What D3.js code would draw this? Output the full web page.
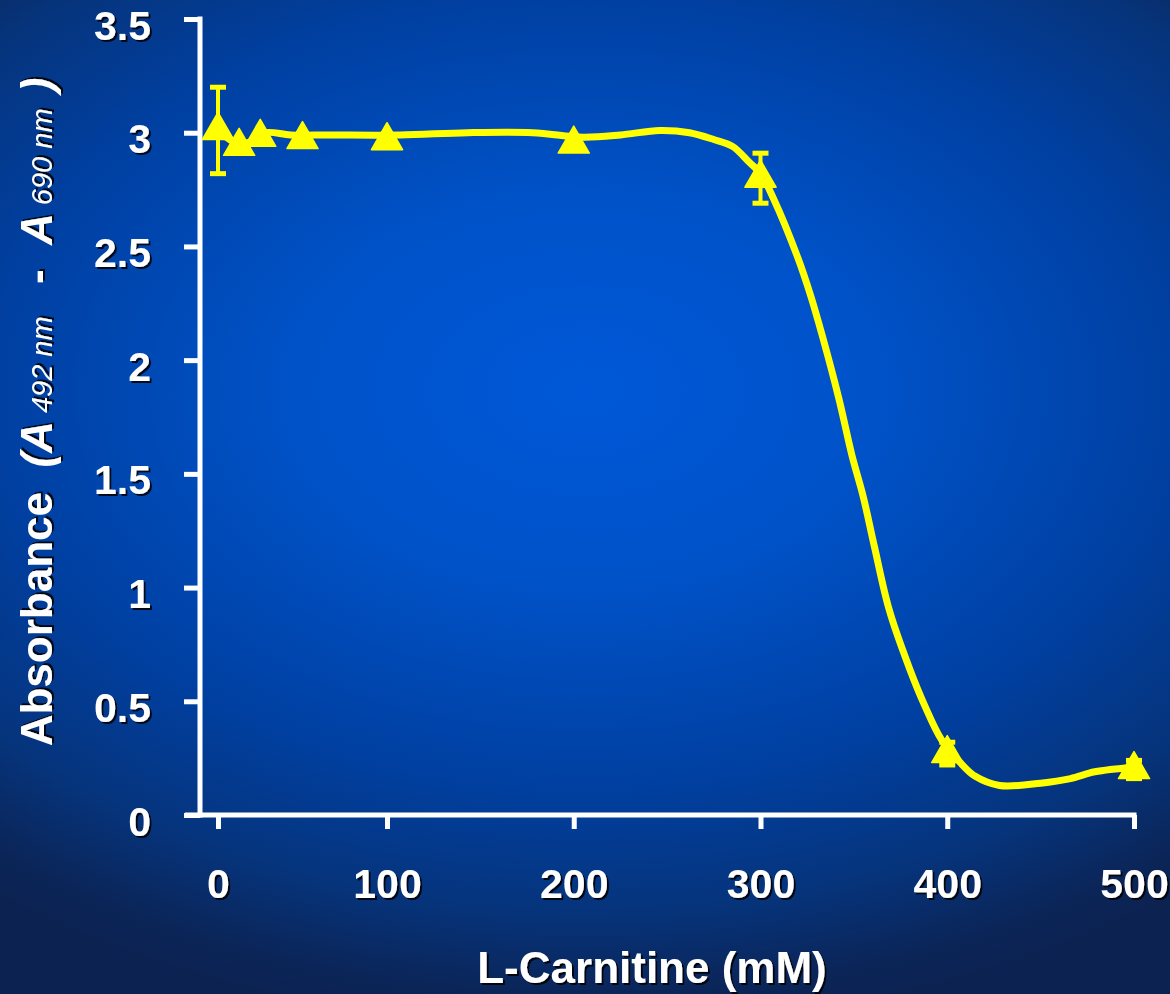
<!DOCTYPE html>
<html lang="en">
<head>
<meta charset="UTF-8">
<title>L-Carnitine absorbance</title>
<script src="https://d3js.org/d3.v7.min.js"></script>
<style>
    body { margin: 0; background: #0b2558; }
    svg { display: block; }
    .lbl, .title {
        font-family: "Liberation Sans", Arial, sans-serif;
        font-weight: bold;
        fill: #ffffff;
    }
    .title { white-space: pre; }
</style>
</head>
<body>
<svg width="1170" height="994"></svg>
<script>
    // axis ticks
    const xTicks = [0, 100, 200, 300, 400, 500];
    const yTicks = [0, 0.5, 1, 1.5, 2, 2.5, 3, 3.5];
    const yTickLabels = ["0", "0.5", "1", "1.5", "2", "2.5", "3", "3.5"];

    // measured points (mM, absorbance, error)
    const conc   = [0, 12.5, 25, 50, 100, 200, 300, 400, 500];
    const absorb = [3.01, 2.94, 2.98, 2.97, 2.965, 2.95, 2.8, 0.27, 0.2];
    const errs   = [0.19, 0, 0, 0, 0, 0, 0.11, 0.05, 0.04];

    // smoothed curve through the points
    const fitX = [0, 12, 19, 28, 43, 66, 107, 143, 178, 205, 225, 246, 262, 275, 285, 294, 300,
                  307, 320, 327, 333, 342, 349, 355, 361, 369, 380, 388, 397, 407, 415, 428, 450, 466, 479, 500];
    const fitY = [3.01, 2.95, 2.96, 3.0, 2.99, 2.99, 2.99, 3.0, 3.0, 2.98, 2.99, 3.01, 3.0, 2.97, 2.94, 2.87, 2.82,
                  2.71, 2.45, 2.28, 2.11, 1.83, 1.58, 1.40, 1.18, 0.90, 0.64, 0.48, 0.33, 0.23, 0.17, 0.13, 0.14, 0.16, 0.19, 0.21];

    const svg = d3.select("svg");
    const defs = svg.append("defs");

    // background
    const grad = defs.append("radialGradient")
        .attr("id", "bg")
        .attr("gradientUnits", "userSpaceOnUse")
        .attr("cx", 0).attr("cy", 0).attr("r", 650)
        .attr("gradientTransform", "translate(585,390) scale(1.5,1)");
    [[0, "#0058d8"], [0.3, "#0052c8"], [0.6, "#0040a2"], [0.8, "#06347c"], [0.93, "#0b2558"], [1, "#0c2250"]]
        .forEach(function (s) {
            grad.append("stop").attr("offset", s[0]).attr("stop-color", s[1]);
        });
    svg.append("rect").attr("width", 1170).attr("height", 994).attr("fill", "url(#bg)");

    // text shadow
    defs.append("filter").attr("id", "shadow")
        .attr("x", "-10%").attr("y", "-10%").attr("width", "120%").attr("height", "130%")
        .append("feDropShadow")
        .attr("dx", 2).attr("dy", 2).attr("stdDeviation", 0.4)
        .attr("flood-color", "#000").attr("flood-opacity", 0.85);

    const x = d3.scaleLinear().domain([0, 100, 500]).range([218, 387, 1134]);
    const y = d3.scaleLinear().domain([0, 3.5]).range([815, 19]);

    const yAxisX = 200;
    const axisW = 5;

    // x axis
    const gx = svg.append("g")
        .attr("transform", "translate(0," + y(0) + ")")
        .call(d3.axisBottom(x).tickValues(xTicks).tickSize(14).tickFormat(d3.format("d")));
    gx.select(".domain").remove();
    gx.selectAll("line").attr("stroke", "#fff").attr("stroke-width", axisW);
    gx.selectAll("text").attr("class", "lbl")
        .attr("y", 83).attr("dy", null)
        .style("font-size", "41px")
        .attr("filter", "url(#shadow)");
    gx.append("line")
        .attr("x1", 185).attr("x2", x(500) + 2.5)
        .attr("stroke", "#fff").attr("stroke-width", axisW);

    // y axis
    const gy = svg.append("g")
        .attr("transform", "translate(" + yAxisX + ",0)")
        .call(d3.axisLeft(y).tickValues(yTicks).tickSize(16)
            .tickFormat(function (d, i) { return yTickLabels[i]; }));
    gy.select(".domain").remove();
    gy.selectAll("line").attr("stroke", "#fff").attr("stroke-width", axisW);
    gy.selectAll("text").attr("class", "lbl")
        .attr("x", -49).attr("dy", null).attr("y", 20)
        .style("font-size", "41px")
        .attr("filter", "url(#shadow)");
    gy.append("line")
        .attr("y1", y(3.5) - 2.5).attr("y2", y(0) + 2.5)
        .attr("stroke", "#fff").attr("stroke-width", axisW);

    // fitted curve
    const line = d3.line()
        .x(function (d) { return x(d[0]); })
        .y(function (d) { return y(d[1]); })
        .curve(d3.curveCatmullRom.alpha(0.5));
    svg.append("path")
        .datum(d3.zip(fitX, fitY))
        .attr("d", line)
        .attr("fill", "none")
        .attr("stroke", "#ffff00")
        .attr("stroke-width", 7)
        .attr("stroke-linejoin", "round");

    const pts = conc.map(function (c, i) { return {c: c, a: absorb[i], e: errs[i]}; });

    // error bars
    const eb = svg.append("g").selectAll("g")
        .data(pts.filter(function (d) { return d.e > 0; }))
        .enter().append("g")
        .attr("stroke", "#ffff00");
    eb.append("line")
        .attr("x1", function (d) { return x(d.c); }).attr("x2", function (d) { return x(d.c); })
        .attr("y1", function (d) { return y(d.a + d.e); }).attr("y2", function (d) { return y(d.a - d.e); })
        .attr("stroke-width", 4);
    [1, -1].forEach(function (s) {
        eb.append("line")
            .attr("x1", function (d) { return x(d.c) - 8; }).attr("x2", function (d) { return x(d.c) + 8; })
            .attr("y1", function (d) { return y(d.a + s * d.e); }).attr("y2", function (d) { return y(d.a + s * d.e); })
            .attr("stroke-width", 5);
    });

    // triangle markers
    const tri = d3.symbol().type(d3.symbolTriangle).size(420);
    svg.append("g").selectAll("path")
        .data(pts)
        .enter().append("path")
        .attr("d", tri)
        .attr("transform", function (d) { return "translate(" + x(d.c) + "," + y(d.a) + ")"; })
        .attr("fill", "#ffff00")
        .attr("stroke", "#ffff00")
        .attr("stroke-width", 1.5)
        .attr("stroke-linejoin", "round");

    // axis titles
    svg.append("text").attr("class", "title")
        .attr("x", 652).attr("y", 983)
        .attr("text-anchor", "middle")
        .style("font-size", "44px")
        .attr("filter", "url(#shadow)")
        .text("L-Carnitine (mM)");

    const yt = svg.append("text").attr("class", "title")
        .attr("transform", "translate(52,412) rotate(-90)")
        .attr("text-anchor", "middle")
        .style("font-size", "44px")
        .attr("filter", "url(#shadow)");
    yt.append("tspan").text("Absorbance  ");
    yt.append("tspan").style("font-style", "italic").text("(A");
    yt.append("tspan").style("font-style", "italic").style("font-weight", "normal").style("font-size", "29px").text(" 492 nm    ");
    yt.append("tspan").text("-  ");
    yt.append("tspan").style("font-style", "italic").text("A");
    yt.append("tspan").style("font-style", "italic").style("font-weight", "normal").style("font-size", "29px").text(" 690 nm  ");
    yt.append("tspan").style("font-style", "italic").text(")");
</script>
</body>
</html>
